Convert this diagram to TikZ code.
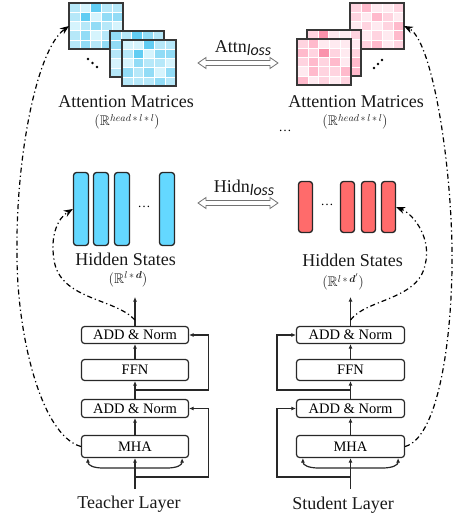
\documentclass[tikz,border=0pt]{standalone}
\usepackage{amsmath,amssymb}
\usepackage{fontspec}
\setmainfont{Liberation Serif}
\newfontfamily\subf{Carlito}
\usetikzlibrary{arrows.meta,calc}
\definecolor{linec}{RGB}{40,40,40}
\definecolor{matborder}{RGB}{55,55,55}
\definecolor{b1}{RGB}{214,244,253}
\definecolor{b2}{RGB}{182,232,249}
\definecolor{b3}{RGB}{146,220,246}
\definecolor{b4}{RGB}{98,205,243}
\definecolor{p1}{RGB}{255,234,240}
\definecolor{p2}{RGB}{255,212,224}
\definecolor{p3}{RGB}{255,186,204}
\definecolor{p4}{RGB}{250,146,172}
\definecolor{tcol}{RGB}{100,216,255}
\definecolor{scol}{RGB}{255,107,107}
\newcommand{\attnmat}[5]{%
  \foreach \v [count=\i from 0] in {#5} {%
    \pgfmathtruncatemacro{\mr}{\i/5}%
    \pgfmathtruncatemacro{\mc}{mod(\i,5)}%
    \filldraw[fill=#4\v, draw=white, line width=0.5pt] ({#2+\mc*10.8},{#3+\mr*9.2}) rectangle ++(10.8,9.2);
  }%
  \node[draw=matborder, line width=1.5pt, minimum width=54pt, minimum height=46pt,
        anchor=north west, inner sep=0pt, outer sep=0pt] (#1) at (#2,#3) {};%
}
\newcommand{\supx}[1]{\raisebox{4.5pt}{\fontsize{10}{10}\selectfont$#1$}}
\begin{document}
\begin{tikzpicture}[x=1pt,y=-1pt,
  lay/.style={draw=linec, line width=1.2pt, rounded corners=3pt, fill=white, inner sep=0pt,
              font=\fontsize{14.5}{16}\selectfont},
  arr/.style={draw=linec, line width=1.2pt, -{Latex[length=4.5pt,width=4pt]}},
  dd/.style={draw=black, line width=1.2pt, dash pattern=on 5pt off 3pt on 1.2pt off 3pt,
             -{Stealth[length=9pt,width=7pt]}},
  lbl/.style={font=\fontsize{18}{20}\selectfont, anchor=base, inner sep=0pt, text=black!90},
  dimlbl/.style={font=\fontsize{14}{16}\selectfont, anchor=base, inner sep=0pt, text=black!90},
  tbar/.style={draw=linec, line width=1.3pt, rounded corners=3pt, fill=tcol,
               minimum width=15pt, minimum height=73pt, inner sep=0pt},
  sbar/.style={draw=linec, line width=1.3pt, rounded corners=3pt, fill=scol,
               minimum width=14pt, minimum height=51pt, inner sep=0pt},
  hollow/.style={draw=gray!90!black, line width=0.8pt, fill=white, line join=miter},
  dotc/.style={fill=black}
]
\useasboundingbox (0,0) rectangle (456,518);

% ---------- attention matrices (teacher, blue) ----------
\attnmat{m1}{69}{3}{b}{2,1,4,2,2, 2,4,1,3,3, 1,2,3,2,1, 2,3,1,2,3, 2,3,2,3,2}
\attnmat{m2}{110}{31}{b}{3,2,4,3,2, 3,1,2,2,3, 2,3,1,3,2, 1,2,3,2,3, 2,3,2,3,2}
\attnmat{m3}{122}{40}{b}{1,1,4,2,2, 2,4,1,3,3, 1,3,2,2,1, 3,2,3,1,3, 2,2,2,3,2}
\fill[dotc] (88,59) circle (1.3) (92.5,63) circle (1.3) (97,67) circle (1.3);

% ---------- attention matrices (student, pink) ----------
\attnmat{r1}{350}{3}{p}{2,3,1,1,2, 2,1,3,2,1, 1,2,1,2,3, 2,1,2,1,3, 1,2,3,1,2}
\attnmat{r2}{307}{30}{p}{2,4,1,1,2, 1,2,1,2,1, 2,1,2,1,2, 1,2,1,2,3, 2,1,2,1,3}
\attnmat{r3}{297}{39}{p}{2,3,1,1,1, 3,2,4,2,1, 2,3,2,3,1, 1,3,2,2,3, 3,1,2,1,2}
\fill[dotc] (374,68) circle (1.3) (378,64) circle (1.3) (382,60) circle (1.3);

% labels of attention matrices
\node[lbl] (tAttLbl) at (126,108) {Attention Matrices};
\node[dimlbl] (tAttDim) at (127,126) {$(\mathbb{R}$\supx{head\,{*}\,l\,{*}\,l}$)$};
\node[lbl] (sAttLbl) at (356,108) {Attention Matrices};
\node[dimlbl] (sAttDim) at (355,126) {$(\mathbb{R}$\supx{head\,{*}\,l\,{*}\,l}$)$};
\node[font=\fontsize{13}{15}\selectfont, inner sep=0pt] (midDots) at (285,131) {\dots};

% loss arrows
\coordinate (aL) at (198,63);
\coordinate (aR) at (278,63);
\draw[hollow] (aL) -- ++(8,-5.5) -- ++(0,3) -- ($(aR)+(-8,-2.5)$) -- ++(0,-3) -- (aR)
  -- ++(-8,5.5) -- ++(0,-3) -- ($(aL)+(8,2.5)$) -- ++(0,3) -- cycle;
\node[lbl] (attnLoss) at (243,53) {Attn\raisebox{-0.3ex}{\fontsize{16}{16}\selectfont\subf\itshape loss}};
\coordinate (hL) at (198,203);
\coordinate (hR) at (278,203);
\draw[hollow] (hL) -- ++(8,-5.5) -- ++(0,3) -- ($(hR)+(-8,-2.5)$) -- ++(0,-3) -- (hR)
  -- ++(-8,5.5) -- ++(0,-3) -- ($(hL)+(8,2.5)$) -- ++(0,3) -- cycle;
\node[lbl] (hidnLoss) at (244,193) {Hidn\raisebox{-0.3ex}{\fontsize{16}{16}\selectfont\subf\itshape loss}};

% ---------- hidden states ----------
\node[tbar] (tb1) at (81,209) {};
\node[tbar] (tb2) at (101,209) {};
\node[tbar] (tb3) at (122,209) {};
\node[font=\fontsize{13}{15}\selectfont, inner sep=0pt] (tbDots) at (144,207) {\dots};
\node[tbar] (tb4) at (167,209) {};
\node[lbl] (tHidLbl) at (125.5,265) {Hidden States};
\node[dimlbl] (tHidDim) at (128,283) {$(\mathbb{R}$\supx{l\,{*}\,\boldsymbol{d}}$)$};

\node[sbar] (sb1) at (305.5,207) {};
\node[font=\fontsize{13}{15}\selectfont, inner sep=0pt] (sbDots) at (327,205) {\dots};
\node[sbar] (sb2) at (347.5,207) {};
\node[sbar] (sb3) at (368.5,207) {};
\node[sbar] (sb4) at (388.5,207) {};
\node[lbl] (sHidLbl) at (352.5,266) {Hidden States};
\node[dimlbl] (sHidDim) at (343,286.5) {$(\mathbb{R}$\supx{l\,{*}\,\boldsymbol{d}'}$)$};

% ---------- teacher layer ----------
\node[lay, minimum width=107pt, minimum height=17pt] (tAdd2) at (135,335) {ADD \& Norm};
\node[lay, minimum width=107pt, minimum height=21pt] (tFFN) at (135,370) {FFN};
\node[lay, minimum width=107pt, minimum height=18pt] (tAdd1) at (135,408.5) {ADD \& Norm};
\node[lay, minimum width=107pt, minimum height=22pt] (tMHA) at (135,446.5) {MHA};
\node[lbl] (tLbl) at (129,508) {Teacher Layer};
\coordinate (tIn) at (135,489);
\coordinate (tBr) at (135,468);
\coordinate (tR1) at (135,477);
\coordinate (tR2) at (135,390);
\coordinate (tOut) at (135,297);
\coordinate (tHs) at (135,320);

\draw[arr] (tIn) -- (tMHA.south);
\draw[arr] (tBr) -- ++(-32,0) .. controls +(-10,0) and +(0,7) .. ($(tMHA.south west)+(7,0)$);
\draw[arr] (tBr) -- ++(32,0) .. controls +(10,0) and +(0,7) .. ($(tMHA.south east)+(-7,0)$);
\draw[arr] (tMHA.north) -- (tAdd1.south);
\draw[arr] (tAdd1.north) -- (tFFN.south);
\draw[arr] (tFFN.north) -- (tAdd2.south);
\draw[arr] (tAdd2.north) -- (tOut);
\draw[arr] (tR1) -| ($(tAdd1.east)+(19,0)$) -- (tAdd1.east);
\draw[arr] (tR2) -| ($(tAdd2.east)+(19,0)$) -- (tAdd2.east);

% ---------- student layer ----------
\node[lay, minimum width=108pt, minimum height=17pt] (sAdd2) at (350.5,335) {ADD \& Norm};
\node[lay, minimum width=108pt, minimum height=21pt] (sFFN) at (350.5,370) {FFN};
\node[lay, minimum width=108pt, minimum height=18pt] (sAdd1) at (350.5,408.5) {ADD \& Norm};
\node[lay, minimum width=108pt, minimum height=22pt] (sMHA) at (350.5,446.5) {MHA};
\node[lbl] (sLbl) at (343,509) {Student Layer};
\coordinate (sIn) at (350.5,489);
\coordinate (sBr) at (350.5,468);
\coordinate (sR1) at (350.5,477);
\coordinate (sR2) at (350.5,390);
\coordinate (sOut) at (350.5,297);
\coordinate (sHs) at (350.5,320);

\draw[arr] (sIn) -- (sMHA.south);
\draw[arr] (sBr) -- ++(-32,0) .. controls +(-10,0) and +(0,7) .. ($(sMHA.south west)+(7,0)$);
\draw[arr] (sBr) -- ++(32,0) .. controls +(10,0) and +(0,7) .. ($(sMHA.south east)+(-7,0)$);
\draw[arr] (sMHA.north) -- (sAdd1.south);
\draw[arr] (sAdd1.north) -- (sFFN.south);
\draw[arr] (sFFN.north) -- (sAdd2.south);
\draw[arr] (sAdd2.north) -- (sOut);
\draw[arr] (sR1) -| ($(sAdd1.west)+(-19,0)$) -- (sAdd1.west);
\draw[arr] (sR2) -| ($(sAdd2.west)+(-19,0)$) -- (sAdd2.west);

% ---------- dash-dot distillation links ----------
\draw[dd] (tMHA.west) .. controls (40,435) and (16,330) .. (17,250)
          .. controls (16,160) and (36,50) .. (m1.west);
\draw[dd] (tHs) .. controls (115,298) and (60,300) .. (54,260)
          .. controls (50,235) and (58,218) .. (tb1.west);
\draw[dd] (sMHA.east) .. controls (440,437) and (453,330) .. (452,250)
          .. controls (451,160) and (432,40) .. (r1.east);
\draw[dd] (sHs) .. controls (366,299) and (418,300) .. (425,265)
          .. controls (432,240) and (415,215) .. (sb4.east);
\end{tikzpicture}
\end{document}
